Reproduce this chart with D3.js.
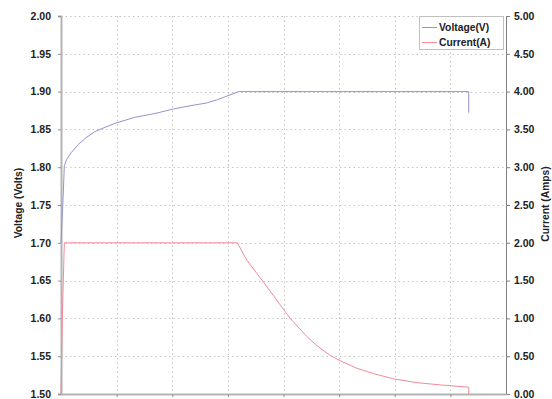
<!DOCTYPE html>
<html><head><meta charset="utf-8">
<script src="https://cdn.jsdelivr.net/npm/d3@7"></script>
<style>
html,body{margin:0;padding:0;background:#fff;}
svg{display:block;font-family:"Liberation Sans",Arial,sans-serif;}
</style></head>
<body><svg id="c" width="552" height="399"></svg>
<script>
// time (grid units) and values
const voltTime = [0, 0.036, 0.06, 0.1, 0.18, 0.31, 0.45, 0.61, 0.8, 0.97, 1.15, 1.33, 1.69, 2.02, 2.3, 2.62, 2.8, 2.98, 3.19, 7.33, 7.33];
const voltValues = [1.70, 1.757, 1.802, 1.810, 1.819, 1.830, 1.839, 1.847, 1.853, 1.858, 1.862, 1.866, 1.871, 1.877, 1.881, 1.885, 1.889, 1.894, 1.900, 1.900, 1.872];
const currTime = [0, 0.03, 0.06, 3.17, 3.34, 3.64, 4.0, 4.12, 4.42, 4.6, 4.84, 5.02, 5.32, 5.62, 5.98, 6.40, 6.82, 7.0, 7.33, 7.33];
const currValues = [0, 1.2, 2.00, 2.00, 1.77, 1.48, 1.12, 1.00, 0.76, 0.64, 0.51, 0.44, 0.34, 0.27, 0.20, 0.15, 0.12, 0.11, 0.09, 0];
const leftTicks = [1.50,1.55,1.60,1.65,1.70,1.75,1.80,1.85,1.90,1.95,2.00];
const rightTicks = [0,0.5,1,1.5,2,2.5,3,3.5,4,4.5,5];
const xTicks = [0,1,2,3,4,5,6,7,8];
const seriesNames = ["Voltage(V)", "Current(A)"];

const svg = d3.select("#c");
const L = 61, R = 506, T = 16, B = 394;
const x = d3.scaleLinear().domain([0, 8]).range([L, R]);
const yL = d3.scaleLinear().domain([1.5, 2.0]).range([B, T]);
const yR = d3.scaleLinear().domain([0, 5]).range([B, T]);
const voltColor = "#9393cf", currColor = "#f28a98";

// grid
const g = svg.append("g");
g.selectAll(".hg").data(leftTicks.filter(d => d > 1.5)).enter().append("line")
  .attr("x1", L).attr("x2", R).attr("y1", d => Math.round(yL(d)) + 0.5).attr("y2", d => Math.round(yL(d)) + 0.5)
  .attr("stroke", "#c4c4c4").attr("stroke-width", 1).attr("stroke-dasharray", "1.5,3");
g.selectAll(".vg").data(xTicks.filter(d => d > 0 && d < 8)).enter().append("line")
  .attr("y1", T).attr("y2", B).attr("x1", d => Math.round(x(d)) + 0.5).attr("x2", d => Math.round(x(d)) + 0.5)
  .attr("stroke", "#c4c4c4").attr("stroke-width", 1).attr("stroke-dasharray", "1.5,3");

// axes
const axL = svg.append("g").attr("transform", `translate(${L},0)`)
  .call(d3.axisLeft(yL).tickValues(leftTicks).tickFormat(d3.format(".2f")).tickSize(3).tickPadding(7));
axL.select(".domain").attr("stroke", "#b4b4b4").attr("stroke-width", 2);
axL.selectAll(".tick line").attr("stroke", "#909090");
const axR = svg.append("g").attr("transform", `translate(${R},0)`)
  .call(d3.axisRight(yR).tickValues(rightTicks).tickFormat(d3.format(".2f")).tickSize(4).tickPadding(4));
axR.select(".domain").attr("stroke", "#808080").attr("stroke-width", 1);
axR.selectAll(".tick line").attr("stroke", "#808080");
const axB = svg.append("g").attr("transform", `translate(0,${B})`)
  .call(d3.axisBottom(x).tickValues(xTicks.filter(d => d > 0 && d < 8)).tickFormat("").tickSize(3).tickSizeOuter(0));
axB.select(".domain").attr("stroke", "#b4b4b4").attr("stroke-width", 2);
axB.selectAll(".tick line").attr("stroke", "#909090");
svg.selectAll(".tick text").attr("font-family", "Liberation Sans, Arial, sans-serif")
  .attr("font-size", "10.5px").attr("font-weight", "bold").attr("fill", "#222");

// lines
const vData = voltTime.map((t, i) => [t, voltValues[i]]);
const cData = currTime.map((t, i) => [t, currValues[i]]);
svg.append("path").datum(vData)
  .attr("d", d3.line().x(d => x(d[0])).y(d => yL(d[1])).curve(d3.curveLinear))
  .attr("fill", "none").attr("stroke", voltColor).attr("stroke-width", 1);
svg.append("path").datum(cData)
  .attr("d", d3.line().x(d => x(d[0])).y(d => yR(d[1])).curve(d3.curveLinear))
  .attr("fill", "none").attr("stroke", currColor).attr("stroke-width", 1);

// axis titles
svg.append("text").attr("transform", `translate(18,203) rotate(-90)`)
  .attr("text-anchor", "middle").attr("dominant-baseline", "central").attr("font-size", "10.3px").attr("font-weight", "bold").attr("fill", "#222")
  .text("Voltage (Volts)");
svg.append("text").attr("transform", `translate(545,204) rotate(-90)`)
  .attr("text-anchor", "middle").attr("dominant-baseline", "central").attr("font-size", "10.3px").attr("font-weight", "bold").attr("fill", "#222")
  .text("Current (Amps)");

// legend
const lg = svg.append("g");
lg.append("rect").attr("x", 419.5).attr("y", 16.5).attr("width", 84).attr("height", 33)
  .attr("fill", "#fff").attr("stroke", "#c0c0c0");
[voltColor, currColor].forEach((c, i) => {
  const yy = 27 + i * 15;
  lg.append("line").attr("x1", 422).attr("x2", 437).attr("y1", yy + 0.5).attr("y2", yy + 0.5)
    .attr("stroke", c).attr("stroke-width", 1);
  lg.append("text").attr("x", 439).attr("y", yy + 4).attr("font-size", "10.3px").attr("font-weight", "bold")
    .attr("fill", "#222").text(seriesNames[i]);
});
</script></body></html>
